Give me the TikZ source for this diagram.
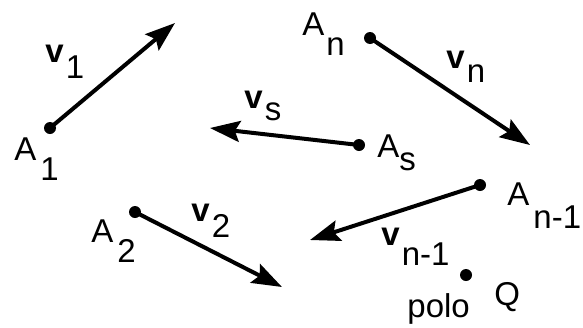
\documentclass[tikz,border=0pt]{standalone}
\usepackage{fontspec}
\setmainfont{Liberation Sans}
\usetikzlibrary{arrows.meta}
% lowered index: [drop]{text}
\newcommand{\lowr}[2][8pt]{\raisebox{-#1}{\fontsize{16.5}{17}\selectfont #2}}

\begin{document}
\begin{tikzpicture}[
					x=0.5pt,y=-0.5pt,
					dnode/.style={circle,fill=black,inner sep=0pt,minimum size=6pt},
					vedge/.style={draw=black,line width=2pt,-{Stealth[length=15pt,width=10.5pt,inset=2.5pt]}},
					lab/.style={inner sep=0pt,anchor=base west,font=\fontsize{16.5}{18}\selectfont}
					]
					\useasboundingbox (0,0) rectangle (583,327);
					% points and free ends
					\foreach \i/\x/\y/\u/\w in {1/50/128/175/23,n/370/38/530/145,s/359/145/210/128,m/480/185/310/240,2/135/212/282/287}{
						\node[dnode] (a\i) at (\x,\y) {};
						\coordinate (t\i) at (\u,\w);
					}
					\node[dnode] (q) at (466,275) {};
					\foreach \i in {1,n,s,m,2}{
						\draw[vedge] (a\i.center) -- (t\i);
					}
					% labels
					\node[lab] (la1) at (14,160) {A\hspace{2pt}\lowr[10pt]{1}};
					\node[lab] (lv1) at (45,62) {\textbf{v}\hspace{1pt}\lowr[8pt]{1}};
					\node[lab] (lan) at (302,35) {A\hspace{1pt}\lowr[10pt]{n}};
					\node[lab] (lvn) at (446,68) {\textbf{v}\hspace{1pt}\lowr[7pt]{n}};
					\node[lab] (lvs) at (244,108) {\textbf{v}\hspace{1pt}\lowr[6pt]{s}};
					\node[lab] (las) at (377,157) {A\lowr[6.5pt]{s}};
					\node[lab] (lam) at (507,205) {A\hspace{2pt}\lowr[11.5pt]{n-1}};
					\node[lab] (lvm) at (381,245) {\textbf{v}\hspace{1pt}\lowr[10pt]{n-1}};
					\node[lab] (la2) at (91,242) {A\hspace{2pt}\lowr[10pt]{2}};
					\node[lab] (lv2) at (191,221) {\textbf{v}\hspace{1pt}\lowr[8pt]{2}};
					\node[lab] (lpolo) at (407,317) {polo};
					\node[lab] (lq) at (494,305) {Q};
				\end{tikzpicture}
\end{document}
